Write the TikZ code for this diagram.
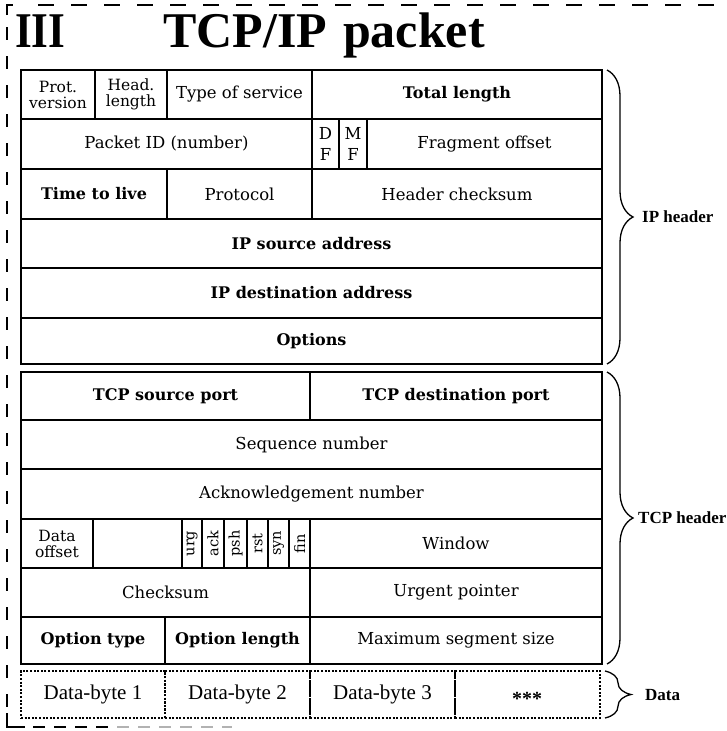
\documentclass[tikz,border=0pt]{standalone}
\usepackage{fontspec}
\setmainfont{DejaVu Serif}
\newfontfamily\timesf{Liberation Serif}
\newfontfamily\timesnarrow[FakeStretch=0.86]{Liberation Serif}
\usetikzlibrary{decorations.pathreplacing}
\newcommand{\fieldbox}[7][]{\node[fld,#1,minimum width={#5-#3},minimum height={#6-#4}] (#2) at ({(#3+#5)/2},{(#4+#6)/2}) {#7};}
\tikzset{
  fld/.style={draw, line width=1.3pt, inner sep=0pt, outer sep=0pt, align=center, font=\fontsize{16.5}{18}\selectfont},
  bld/.style={font=\fontsize{16}{18}\selectfont\bfseries},
  two/.style={font=\fontsize{15.5}{16}\selectfont},
  dfmf/.style={font=\fontsize{16.5}{21}\selectfont},
  flag/.style={font=\fontsize{14.5}{16}\selectfont},
  dat/.style={dash pattern=on 2pt off 1.6pt, line width=1.2pt, font=\timesf\fontsize{21}{24}\selectfont},
  brc/.style={decorate, decoration={brace, amplitude=26pt, aspect=0.5}, line width=1.3pt},
  lbl/.style={anchor=west, inner sep=0pt, font=\timesf\bfseries\fontsize{17}{19}\selectfont},
  ttl/.style={anchor=base west, inner sep=0pt, font=\timesf\bfseries\fontsize{50}{54}\selectfont},
  frame/.style={line width=1.3pt}
}
\begin{document}
\begin{tikzpicture}[x=1pt,y=-1pt]
\useasboundingbox (0,0) rectangle (727,731);
% outer frame
\draw[frame] (7,15) -- (7,5) -- (13,5);
\draw[frame, dash pattern=on 16pt off 17pt] (38,5) -- (727,5);
\draw[frame, dash pattern=on 13pt off 16pt] (7,27) -- (7,708);
\draw[frame] (7,713) -- (7,727) -- (25,727);
\draw[frame, dash pattern=on 12pt off 9pt] (33,727) -- (115,727);
\draw[frame, gray!60, dash pattern=on 12pt off 9pt] (117,727) -- (232,727);
% title
\node[ttl, font=\timesnarrow\bfseries\fontsize{50}{54}\selectfont] (num) at (15,47) {III};
\node[ttl] (title) at (163,47) {TCP/IP\hspace{16pt}packet};
% IP header
\fieldbox[two]{ver}{21}{70}{95}{119}{Prot.\\version}
\fieldbox[two]{hlen}{95}{70}{167}{119}{Head.\\length}
\fieldbox{tos}{167}{70}{312}{119}{Type of service}
\fieldbox[bld]{totlen}{312}{70}{602}{119}{Total length}
\fieldbox{pid}{21}{119}{312}{169}{Packet ID (number)}
\fieldbox[dfmf]{df}{312}{119}{339}{169}{D\\F}
\fieldbox[dfmf]{mf}{339}{119}{367}{169}{M\\F}
\fieldbox{frag}{367}{119}{602}{169}{Fragment offset}
\fieldbox[bld]{ttl}{21}{169}{167}{219}{Time to live}
\fieldbox{proto}{167}{169}{312}{219}{Protocol}
\fieldbox{hcs}{312}{169}{602}{219}{Header checksum}
\fieldbox[bld]{src}{21}{219}{602}{268}{IP source address}
\fieldbox[bld]{dst}{21}{268}{602}{318}{IP destination address}
\fieldbox[bld]{opts}{21}{318}{602}{364}{Options}
% TCP header
\fieldbox[bld]{sport}{21}{372}{310}{420}{TCP source port}
\fieldbox[bld]{dport}{310}{372}{602}{420}{TCP destination port}
\fieldbox{seq}{21}{420}{602}{469}{Sequence number}
\fieldbox{ackn}{21}{469}{602}{519}{Acknowledgement number}
\fieldbox[two]{doff}{21}{519}{93}{568}{Data\\offset}
\fieldbox{resv}{93}{519}{182}{568}{}
\fieldbox[flag]{furg}{182}{519}{202}{568}{\rotatebox{90}{urg}}
\fieldbox[flag]{fack}{202}{519}{224}{568}{\rotatebox{90}{ack}}
\fieldbox[flag]{fpsh}{224}{519}{247}{568}{\rotatebox{90}{psh}}
\fieldbox[flag]{frst}{247}{519}{268}{568}{\rotatebox{90}{rst}}
\fieldbox[flag]{fsyn}{268}{519}{289}{568}{\rotatebox{90}{syn}}
\fieldbox[flag]{ffin}{289}{519}{310}{568}{\rotatebox{90}{fin}}
\fieldbox{win}{310}{519}{602}{568}{Window}
\fieldbox{csum}{21}{568}{310}{617}{Checksum}
\fieldbox{urgp}{310}{568}{602}{617}{Urgent pointer}
\fieldbox[bld]{otype}{21}{617}{165}{664}{Option type}
\fieldbox[bld]{olen}{165}{617}{310}{664}{Option length}
\fieldbox{mss}{310}{617}{602}{664}{Maximum segment size}
% Data
\fieldbox[dat]{d1}{21}{671}{165}{718}{Data-byte 1}
\fieldbox[dat]{d2}{165}{671}{310}{718}{Data-byte 2}
\fieldbox[dat]{d3}{310}{671}{455}{718}{Data-byte 3}
\fieldbox[dat]{d4}{455}{671}{600}{718}{}
\node[inner sep=0pt, font=\timesf\bfseries\fontsize{20}{22}\selectfont] (ast) at (527,699) {***};
% braces
\draw[brc] ([xshift=5pt]totlen.north east) -- ([xshift=5pt]opts.south east);
\draw[brc] ([xshift=5pt]dport.north east) -- ([xshift=5pt]mss.south east);
\draw[brc] ([xshift=5pt]d4.north east) -- ([xshift=5pt]d4.south east);
\node[lbl] (iph) at (642,217) {IP header};
\node[lbl] (tcph) at (638,518) {TCP header};
\node[lbl] (datal) at (645,695) {Data};
\end{tikzpicture}
\end{document}
